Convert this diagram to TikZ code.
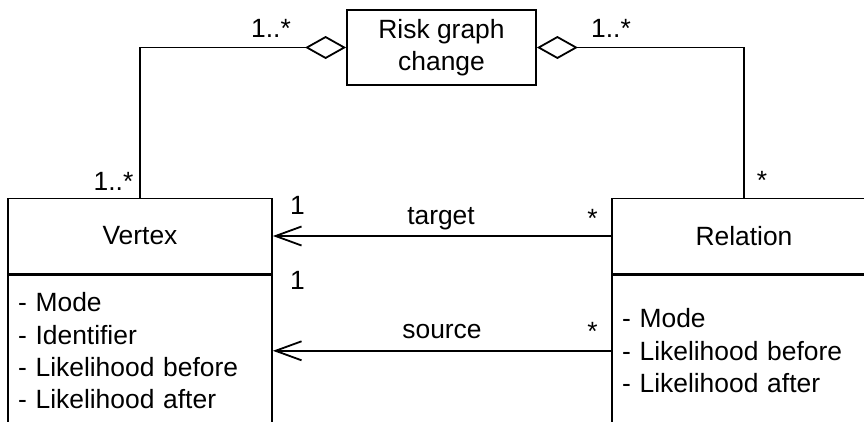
\documentclass[tikz,border=0pt]{standalone}
\usepackage{fontspec}
\setmainfont{Liberation Sans}
\usetikzlibrary{arrows.meta, positioning}

\begin{document}
\begin{tikzpicture}[x=1pt,y=-1pt,line width=1.8pt,
  every node/.style={font={\fontsize{26.4}{32.4}\selectfont}},
  classhead/.style={draw,minimum width=264pt,minimum height=75pt,inner sep=0pt},
  attrbox/.style={draw,anchor=north,minimum width=264pt,minimum height=151pt,
    text width=244pt,align=left,inner xsep=10pt,inner ysep=0pt},
  mult/.style={anchor=base,inner sep=0pt},
  aggr/.style={{Diamond[open,length=41pt,width=23pt]}-},
  nav/.style={-{Straight Barb[length=26pt,width=19pt]}}]
  \useasboundingbox (0,0) rectangle (864,421);
  \clip (0,0) rectangle (864,421);
  % classes
  \node[draw,align=center,minimum width=189pt,minimum height=75pt,inner sep=0pt] (change) at (441.5,47.5){Risk graph\\change};
  \node[classhead] (vertex) at (140,236){Vertex};
  \node[attrbox] (vertexattr) at (vertex.south){- Mode\\- Identifier\\- Likelihood before\\- Likelihood after};
  \node[classhead] (relation) at (744,236){Relation};
  \node[attrbox] (relationattr) at (relation.south){- Mode\\- Likelihood before\\- Likelihood after};
  % associations
  \draw[aggr](change.west) -| (vertex.north);
  \draw[aggr](change.east) -| (relation.north);
  \draw[nav](relation.west) -- (vertex.east);
  \draw[nav](relationattr.west) -- (vertexattr.east);
  % multiplicities and roles
  \node[mult] (mvchange) at (271,37){1..*};
  \node[mult] (mrchange) at (611,37){1..*};
  \node[mult] (mvertex) at (113.5,190){1..*};
  \node[mult] (mrelation) at (762,189){*};
  \node[mult] (mtargetv) at (297.5,214){1};
  \node[mult] (msourcev) at (297.5,289){1};
  \node[mult] (mtargetr) at (592.5,227){*};
  \node[mult] (msourcer) at (592.5,340){*};
  \node[mult] (target) at (441,224){target};
  \node[mult] (source) at (442,338){source};
\end{tikzpicture}
\end{document}
